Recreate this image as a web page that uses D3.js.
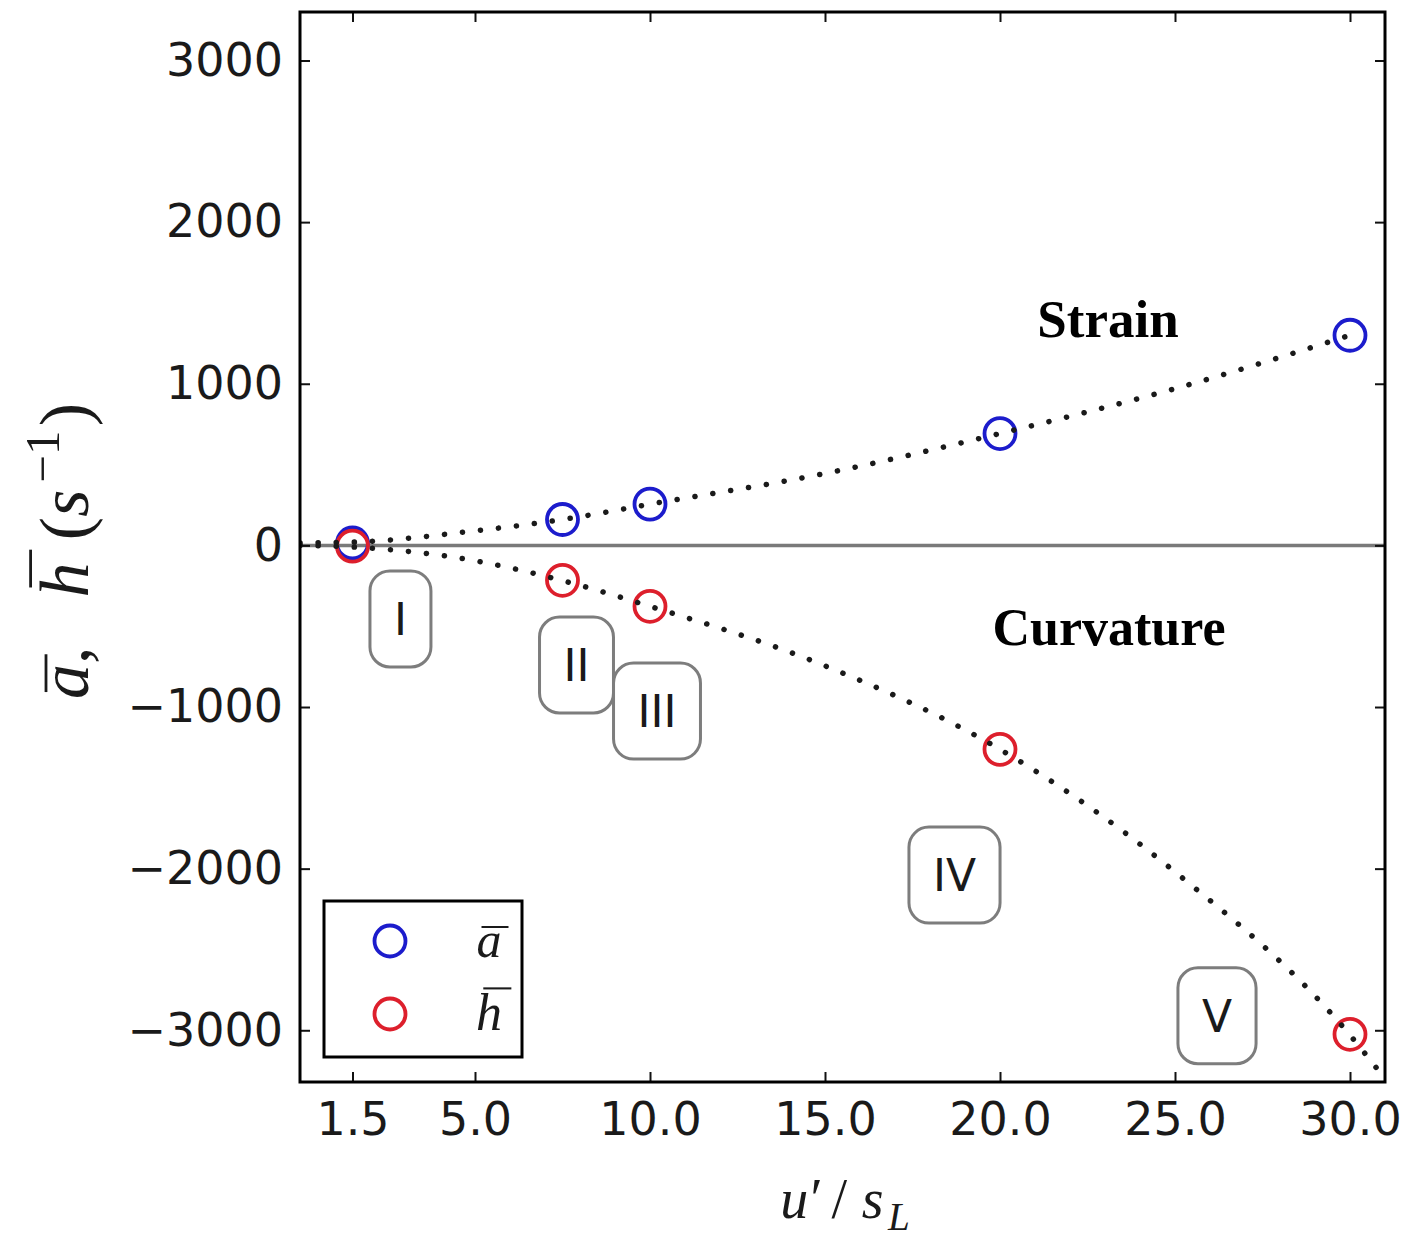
<!DOCTYPE html>
<html>
<head>
<meta charset="utf-8">
<script src="https://cdn.jsdelivr.net/npm/d3@7"></script>
<style>
  body { margin: 0; background: #fff; }
  svg { display: block; }
</style>
</head>
<body>
<svg id="chart" width="1422" height="1243"></svg>
<script>
// ---- data ----
const xTicks = [1.5, 5, 10, 15, 20, 25, 30];
const yTicks = [-3000, -2000, -1000, 0, 1000, 2000, 3000];

// mean strain rate and mean curvature term for each turbulence intensity
const turbIntensity = [1.5, 7.5, 10, 20, 30];
const strainMean = [15, 160, 255, 692, 1300];
const curvatureMean = [-5, -216, -377, -1262, -3025];

// fitted trend curves
const strainFitX = [0, 1.5, 5, 7.5, 10, 15, 20, 25, 30];
const strainFitY = [15, 20, 90, 160, 255, 445, 692, 970, 1300];
const curvFitX = [0, 1.5, 5, 7.5, 10, 15, 20, 25, 30, 31];
const curvFitY = [0, -10, -95, -218, -377, -745, -1262, -2020, -3030, -3300];

// regime labels
const regimeNames = ["I", "II", "III", "IV", "V"];

// ---- layout ----
const frame = { left: 300, right: 1385, top: 12, bottom: 1082 };
const regimeAnchors = [[2.87, -455], [7.9, -740], [10.2, -1025], [18.7, -2040], [26.2, -2910]];

const svg = d3.select("#chart");
const x = d3.scaleLinear().domain([0, 31]).range([frame.left, frame.right]);
const y = d3.scaleLinear().domain([-3320, 3300]).range([frame.bottom, frame.top]);

const BLUE = "#1c1ccc";
const RED = "#dd1f2c";
const SANS = "'DejaVu Sans', sans-serif";
const SERIF = "'Liberation Serif', 'DejaVu Serif', serif";

svg.append("rect").attr("width", 1422).attr("height", 1243).attr("fill", "#fff");

svg.append("defs").append("clipPath").attr("id", "plot-clip")
  .append("rect")
  .attr("x", frame.left).attr("y", frame.top)
  .attr("width", frame.right - frame.left).attr("height", frame.bottom - frame.top);

const plot = svg.append("g").attr("clip-path", "url(#plot-clip)");

// zero reference line
plot.append("line")
  .attr("x1", frame.left).attr("x2", frame.right)
  .attr("y1", y(0)).attr("y2", y(0))
  .attr("stroke", "#7a7a7a").attr("stroke-width", 3.5);

// markers
function markers(values, color) {
  plot.append("g").selectAll("circle")
    .data(turbIntensity.map((t, i) => [t, values[i]]))
    .join("circle")
    .attr("cx", d => x(d[0])).attr("cy", d => y(d[1]))
    .attr("r", 15.5)
    .attr("fill", "none").attr("stroke", color).attr("stroke-width", 3.8);
}
markers(strainMean, BLUE);
markers(curvatureMean, RED);

// dotted trend curves
const line = d3.line().x(d => x(d[0])).y(d => y(d[1])).curve(d3.curveMonotoneX);
function trend(xs, ys) {
  plot.append("path")
    .datum(xs.map((v, i) => [v, ys[i]]))
    .attr("d", line)
    .attr("fill", "none")
    .attr("stroke", "#1a1a1a")
    .attr("stroke-width", 5.5)
    .attr("stroke-linecap", "round")
    .attr("stroke-dasharray", "0.1 18");
}
trend(strainFitX, strainFitY);
trend(curvFitX, curvFitY);

// regime boxes
const regimes = svg.append("g");
regimeNames.forEach((name, i) => {
  const [rx, ry] = regimeAnchors[i];
  const g = regimes.append("g").attr("transform", `translate(${x(rx)},${y(ry)})`);
  const rect = g.append("rect");
  const t = g.append("text")
    .attr("text-anchor", "middle").attr("dy", "0.36em")
    .style("font-family", SANS).style("font-size", "44px").attr("fill", "#1a1a1a")
    .text(name);
  const w = t.node().getComputedTextLength() + 48;
  const h = 96;
  rect.attr("x", -w / 2).attr("y", -h / 2).attr("width", w).attr("height", h)
    .attr("rx", 20).attr("ry", 20)
    .attr("fill", "#fff").attr("stroke", "#7d7d7d").attr("stroke-width", 3);
});

// axes: ticks pointing inward on all four sides
function styleAxis(g, withLabels) {
  g.select(".domain").remove();
  g.selectAll(".tick line").attr("stroke", "#111").attr("stroke-width", 2);
  g.selectAll(".tick text")
    .style("font-family", SANS).style("font-size", "46px").attr("fill", "#1a1a1a");
  if (!withLabels) g.selectAll(".tick text").remove();
}
const minusFmt = d => d < 0 ? "\u2212" + Math.abs(d) : String(d);

svg.append("g").attr("transform", `translate(0,${frame.bottom})`)
  .call(d3.axisBottom(x).tickValues(xTicks).tickFormat(d3.format(".1f")).tickSize(-10).tickPadding(20))
  .call(g => styleAxis(g, true));
svg.append("g").attr("transform", `translate(0,${frame.top})`)
  .call(d3.axisTop(x).tickValues(xTicks).tickSize(-10))
  .call(g => styleAxis(g, false));
svg.append("g").attr("transform", `translate(${frame.left},0)`)
  .call(d3.axisLeft(y).tickValues(yTicks).tickFormat(minusFmt).tickSize(-10).tickPadding(17))
  .call(g => styleAxis(g, true));
svg.append("g").attr("transform", `translate(${frame.right},0)`)
  .call(d3.axisRight(y).tickValues(yTicks).tickSize(-10))
  .call(g => styleAxis(g, false));

// frame
svg.append("rect")
  .attr("x", frame.left).attr("y", frame.top)
  .attr("width", frame.right - frame.left).attr("height", frame.bottom - frame.top)
  .attr("fill", "none").attr("stroke", "#000").attr("stroke-width", 3);

// region captions
svg.append("text").attr("x", 1108).attr("y", 337).attr("text-anchor", "middle")
  .style("font-family", SERIF).style("font-weight", "bold").style("font-size", "53px")
  .attr("fill", "#000").text("Strain");
svg.append("text").attr("x", 1109).attr("y", 645).attr("text-anchor", "middle")
  .style("font-family", SERIF).style("font-weight", "bold").style("font-size", "52px")
  .attr("fill", "#000").text("Curvature");

// math-style text built piece by piece; bar = height of overline above baseline (em)
function mathText(parent, pieces, fs, anchorX, anchorY, rotate) {
  const outer = parent.append("g")
    .attr("transform", `translate(${anchorX},${anchorY})` + (rotate ? ` rotate(${rotate})` : ""));
  const inner = outer.append("g");
  let cx = 0;
  pieces.forEach(p => {
    cx += (p.gap || 0) * fs;
    const size = fs * (p.s || 1);
    const t = inner.append("text")
      .attr("x", cx).attr("y", (p.dy || 0) * fs)
      .style("font-family", SERIF)
      .style("font-style", p.it ? "italic" : "normal")
      .style("font-size", size + "px")
      .attr("fill", "#1a1a1a")
      .text(p.t);
    const w = t.node().getComputedTextLength();
    if (p.bar) {
      const slant = p.bar * fs * 0.2;
      inner.append("line")
        .attr("x1", cx + slant - 0.02 * fs).attr("x2", cx + w + slant + 0.02 * fs)
        .attr("y1", -p.bar * fs).attr("y2", -p.bar * fs)
        .attr("stroke", "#1a1a1a").attr("stroke-width", fs * 0.04);
    }
    cx += w;
  });
  inner.attr("transform", `translate(${-cx / 2},0)`);
  return outer;
}

// y axis label
mathText(svg, [
  { t: "a", it: true, bar: 0.6 },
  { t: "," },
  { t: "h", it: true, bar: 0.82, gap: 0.7 },
  { t: "(", gap: 0.32 },
  { t: "s", it: true },
  { t: "\u22121", s: 0.7, dy: -0.42, gap: 0.1 },
  { t: ")", gap: 0.06 }
], 70, 88, 551, -90);

// x axis label
mathText(svg, [
  { t: "u", it: true },
  { t: "\u2032", gap: 0.04 },
  { t: "/", gap: 0.16 },
  { t: "s", it: true, gap: 0.26 },
  { t: "L", it: true, s: 0.7, dy: 0.22, gap: 0.08 }
], 56, 845, 1218, 0);

// legend
const legend = svg.append("g");
legend.append("rect")
  .attr("x", 324).attr("y", 901).attr("width", 198).attr("height", 156)
  .attr("fill", "#fff").attr("stroke", "#000").attr("stroke-width", 3);
[[BLUE, 941], [RED, 1014]].forEach(([c, cy]) => {
  legend.append("circle").attr("cx", 390).attr("cy", cy).attr("r", 15.5)
    .attr("fill", "none").attr("stroke", c).attr("stroke-width", 3.8);
});
mathText(legend, [{ t: "a", it: true, bar: 0.6 }], 50, 489, 957, 0);
mathText(legend, [{ t: "h", it: true, bar: 0.8 }], 52, 489, 1030, 0);
</script>
</body>
</html>
